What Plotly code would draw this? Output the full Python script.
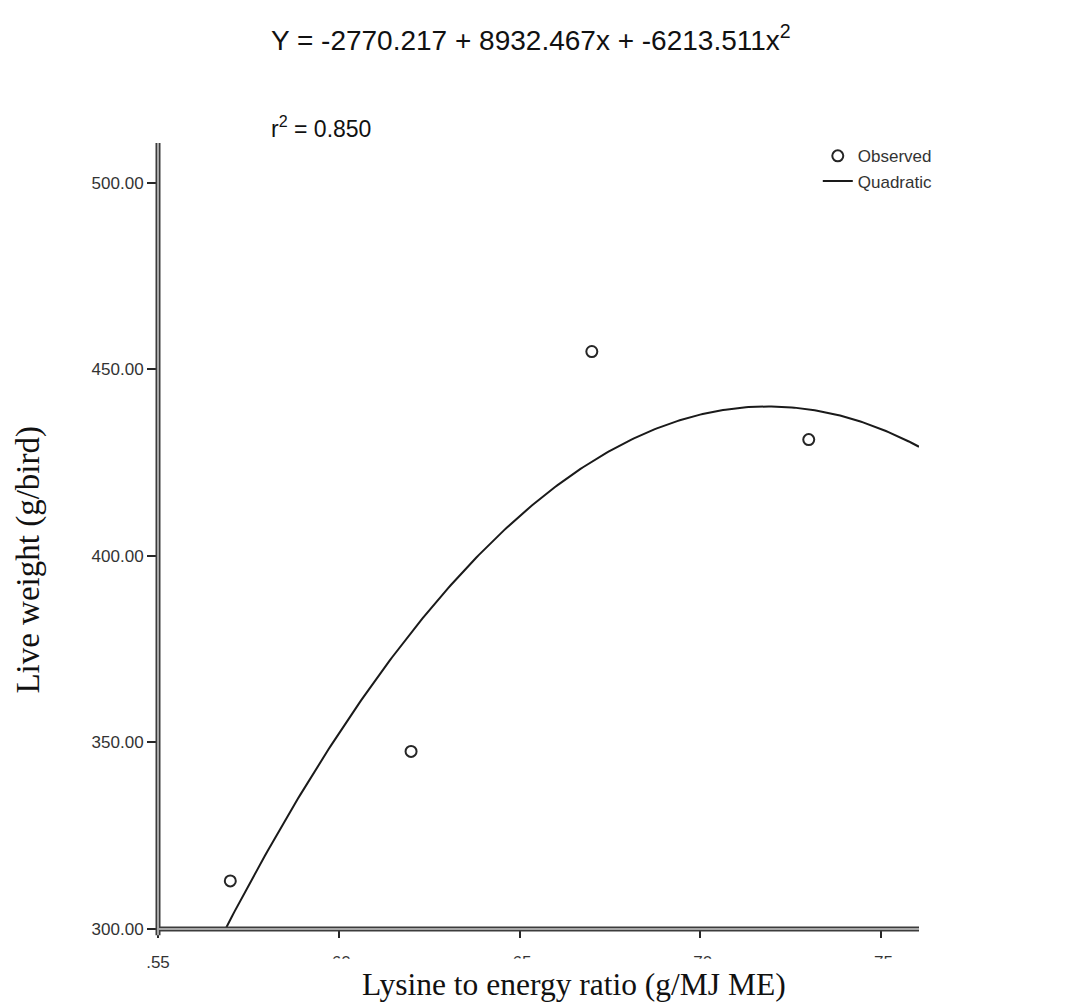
import numpy as np
import plotly.graph_objects as go

# Observed live weight against dietary lysine:energy ratio
lys_energy_ratio = [0.57, 0.62, 0.67, 0.73]
live_weight = [312.9, 347.6, 454.8, 431.2]

# Quadratic fit coefficients (Y = b0 + b1*x + b2*x^2) and its r-squared
b0, b1, b2 = -2770.217, 8932.467, -6213.511
r_squared = 0.850

x_tick_vals = [0.55, 0.60, 0.65, 0.70, 0.75]
x_tick_text = [".55", ".60", ".65", ".70", ".75"]
y_tick_vals = [300, 350, 400, 450, 500]
y_tick_text = ["300.00", "350.00", "400.00", "450.00", "500.00"]

X_RANGE = [0.55, 0.7605]
Y_RANGE = [300, 510.7]

# Fitted curve evaluated across the x-axis range
fit_x = np.linspace(X_RANGE[0], X_RANGE[1], 300)
fit_y = b0 + b1 * fit_x + b2 * fit_x ** 2

INK = "#262626"
SANS = "Liberation Sans, Arial, sans-serif"
SERIF = "Liberation Serif, Times New Roman, serif"

fig = go.Figure()
fig.add_trace(go.Scatter(
    x=lys_energy_ratio, y=live_weight, mode="markers", name="Observed",
    marker=dict(symbol="circle-open", size=11, color=INK, line=dict(width=2, color=INK)),
))
fig.add_trace(go.Scatter(
    x=fit_x, y=fit_y, mode="lines", name="Quadratic",
    line=dict(color="#1a1a1a", width=2),
))

# SPSS-style double axis lines
axis_shapes = []
for w, c in [(5, "#3c3c3c"), (2, "#a8a8a8")]:
    axis_shapes.append(dict(type="line", xref="paper", yref="paper",
                            x0=0, x1=0, y0=-0.008, y1=1, line=dict(color=c, width=w), layer="above"))
    axis_shapes.append(dict(type="line", xref="paper", yref="paper",
                            x0=0, x1=1, y0=0, y1=0, line=dict(color=c, width=w), layer="above"))
# white band behind the x-axis title
axis_shapes.append(dict(type="rect", xref="paper", yref="paper",
                        x0=0.024, x1=1.06, y0=-0.10, y1=-0.0380,
                        fillcolor="white", line=dict(width=0), layer="above"))

fig.update_layout(
    width=1071, height=1003,
    margin=dict(l=158, r=152, t=143, b=74),
    paper_bgcolor="white", plot_bgcolor="white",
    font=dict(family=SANS, color=INK),
    showlegend=True,
    legend=dict(x=0.867, y=1.006, xanchor="left", yanchor="top",
                bgcolor="rgba(0,0,0,0)", font=dict(size=17, color="#333333"),
                itemwidth=30, tracegroupgap=0),
    xaxis=dict(range=X_RANGE, showgrid=False, zeroline=False, showline=False,
               tickmode="array", tickvals=x_tick_vals, ticktext=x_tick_text,
               ticks="outside", ticklen=8, tickwidth=1.5, tickcolor=INK,
               ticklabelstandoff=10,
               tickfont=dict(size=17, color="#333333")),
    yaxis=dict(range=Y_RANGE, showgrid=False, zeroline=False, showline=False,
               tickmode="array", tickvals=y_tick_vals, ticktext=y_tick_text,
               ticks="outside", ticklen=10, tickwidth=1.5, tickcolor=INK,
               tickfont=dict(size=17, color="#333333")),
    shapes=axis_shapes,
    annotations=[
        dict(text=f"Y = {b0:.3f} + {b1:.3f}x + {b2:.3f}x<sup>2</sup>",
             xref="paper", yref="paper", x=0.146, y=1.1336, xanchor="left", yanchor="middle",
             showarrow=False, font=dict(size=28, color="#111111", family=SANS)),
        dict(text=f"r<sup>2</sup> = {r_squared:.3f}",
             xref="paper", yref="paper", x=0.146, y=1.0204, xanchor="left", yanchor="middle",
             showarrow=False, font=dict(size=23, color="#111111", family=SANS)),
        dict(text="Lysine to energy ratio (g/MJ ME)",
             xref="paper", yref="paper", x=0.547, y=-0.0700, xanchor="center", yanchor="middle",
             showarrow=False, font=dict(size=31.5, color="#111111", family=SERIF)),
        dict(text="Live weight (g/bird)", textangle=-90,
             xref="paper", yref="paper", x=-0.170, y=0.4695, xanchor="center", yanchor="middle",
             showarrow=False, font=dict(size=33, color="#111111", family=SERIF)),
    ],
)

fig.write_html("out.html")
